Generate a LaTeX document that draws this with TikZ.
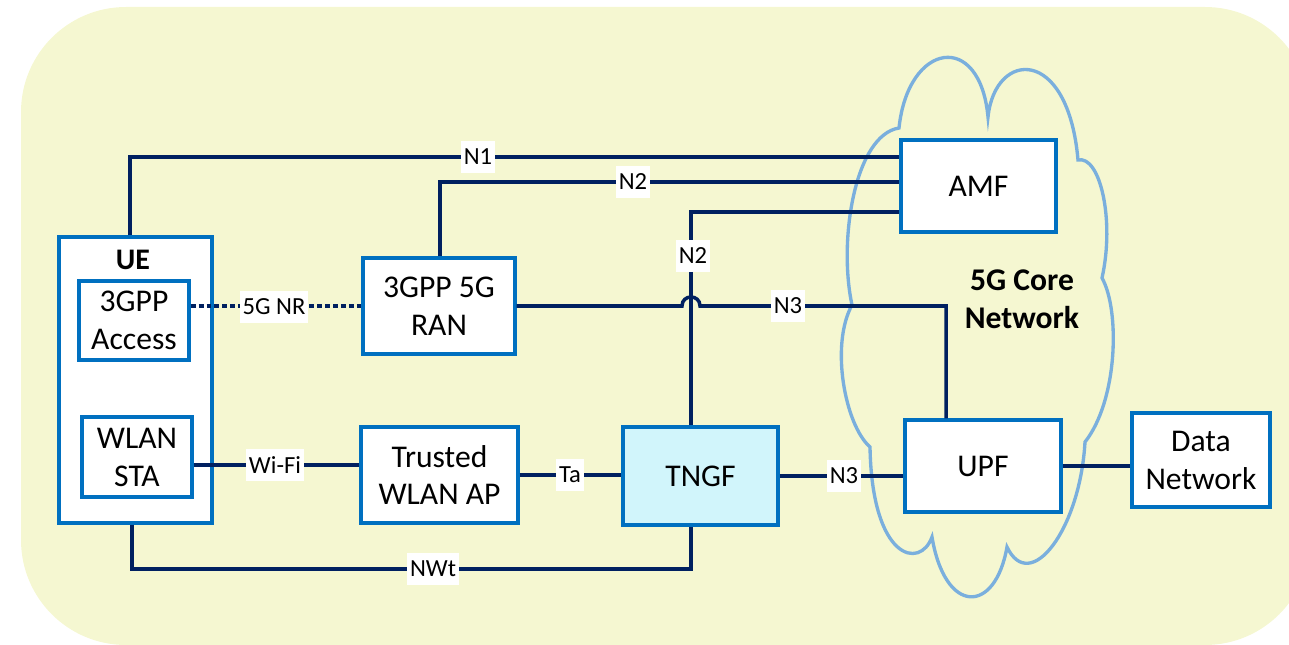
\documentclass[tikz,border=0pt]{standalone}
\usepackage{fontspec}
\setmainfont{Carlito}
\usepackage{tikz}
\definecolor{bgyellow}{HTML}{F5F7D1}
\definecolor{boxblue}{HTML}{0070C0}
\definecolor{navy}{HTML}{002060}
\definecolor{cloudblue}{HTML}{7AAFDD}
\definecolor{tngfcyan}{HTML}{D1F5FB}
\tikzset{
  box/.style={draw=boxblue, line width=2pt, fill=white, align=center, inner sep=0pt, font=\fontsize{18}{21.6}\selectfont},
  link/.style={draw=navy, line width=2pt},
  radio/.style={link, dash pattern=on 2.8pt off 1.7pt},
  lbl/.style={fill=white, inner xsep=1.5pt, inner ysep=0pt, minimum height=0.64cm, font=\fontsize{14}{16.8}\selectfont},
  cloudline/.style={draw=cloudblue, line width=1.9pt}
}

\begin{document}
\begin{tikzpicture}[x=0.02cm, y=-0.02cm]
		\useasboundingbox (0,0) rectangle (1289,645);
		% 背景
		\begin{scope}
			\clip (0,0) rectangle (1289,645);
			\fill[bgyellow, rounded corners=2.1cm] (21,7) rectangle (1310,645);
		\end{scope}
		% 5G 核心网（云）
		\draw[cloudline] (899,128)
			.. controls (908,42) and (980,30) .. (988,117)
			.. controls (995,50) and (1068,45) .. (1078,160)
			.. controls (1100,155) and (1115,220) .. (1102,278)
			.. controls (1120,310) and (1118,400) .. (1085,442)
			.. controls (1080,530) and (1030,595) .. (1007,547)
			.. controls (995,615) and (945,615) .. (932,537)
			.. controls (920,570) and (872,560) .. (870,447)
			.. controls (845,425) and (830,345) .. (852,305)
			.. controls (838,240) and (855,135) .. cycle;
		\node[font=\bfseries\fontsize{18}{21.6}\selectfont, align=center] (core) at (1022,299) {5G Core\\Network};
		% 网元
		\node[box, minimum width=3.06cm, minimum height=5.72cm] (UE) at (135.5,380) {};
		\node[font=\bfseries\fontsize{17}{20}\selectfont] (UEt) at (133,260) {UE};
		\node[box, minimum width=2.2cm, minimum height=1.58cm] (Acc) at (134,320.5) {3GPP\\Access};
		\node[box, minimum width=2.2cm, minimum height=1.6cm] (STA) at (137,457) {WLAN\\STA};
		\node[box, minimum width=3.04cm, minimum height=1.92cm] (RAN) at (439,306) {3GPP 5G\\RAN};
		\node[box, minimum width=3.14cm, minimum height=1.92cm] (AP) at (439.5,475) {Trusted\\WLAN AP};
		\node[box, fill=tngfcyan, minimum width=3.1cm, minimum height=1.96cm] (TNGF) at (700.5,476) {TNGF};
		\node[box, minimum width=3.1cm, minimum height=1.84cm] (AMF) at (978.5,186) {AMF};
		\node[box, minimum width=3.12cm, minimum height=1.84cm] (UPF) at (983,466) {UPF};
		\node[box, minimum width=2.76cm, minimum height=1.88cm] (DN) at (1201,460) {Data\\Network};
		% 接口
		\coordinate (n1) at (130,157);
		\coordinate (n2a) at (440,182);
		\coordinate (n2b) at (691,212);
		\coordinate (hopL) at (682,306);
		\coordinate (hopR) at (700,306);
		\coordinate (n3a) at (946,306);
		\coordinate (wf) at (0,465);
		\coordinate (nw) at (132,569);
		\coordinate (nwR) at (691,569);
		\draw[link] (UE.north -| n1) -- (n1) -- (n1 -| AMF.west);
		\draw[link] (RAN.north -| n2a) -- (n2a) -- (n2a -| AMF.west);
		\draw[link] (TNGF.north -| n2b) -- (n2b) -- (n2b -| AMF.west);
		\draw[link] (RAN.east) -- (hopL) .. controls +(0,-12) and +(0,-12) .. (hopR) -- (n3a) -- (n3a |- UPF.north);
		\draw[radio] (Acc.east |- RAN.west) -- (RAN.west);
		\draw[link] (STA.east |- wf) -- (AP.west |- wf);
		\draw[link] (AP.east) -- (AP.east -| TNGF.west);
		\draw[link] (TNGF.east) -- (TNGF.east -| UPF.west);
		\draw[link, line width=2.2pt] (UPF.east) -- (UPF.east -| DN.west);
		\draw[link] (UE.south -| nw) -- (nw) -- (nwR) -- (TNGF.south -| nwR);
		% 接口标注
		\foreach \n/\x/\y/\t in {N1/478/157/N1, N2r/633/182/N2, N2t/693/256/N2, N3r/788/306/N3, NR/274/307/5G NR, WiFi/275/465/Wi-Fi, Ta/570/475/Ta, N3t/844/476/N3, NWt/433/569/NWt}
			\node[lbl] (l\n) at (\x,\y) {\t};
	\end{tikzpicture}
\end{document}
